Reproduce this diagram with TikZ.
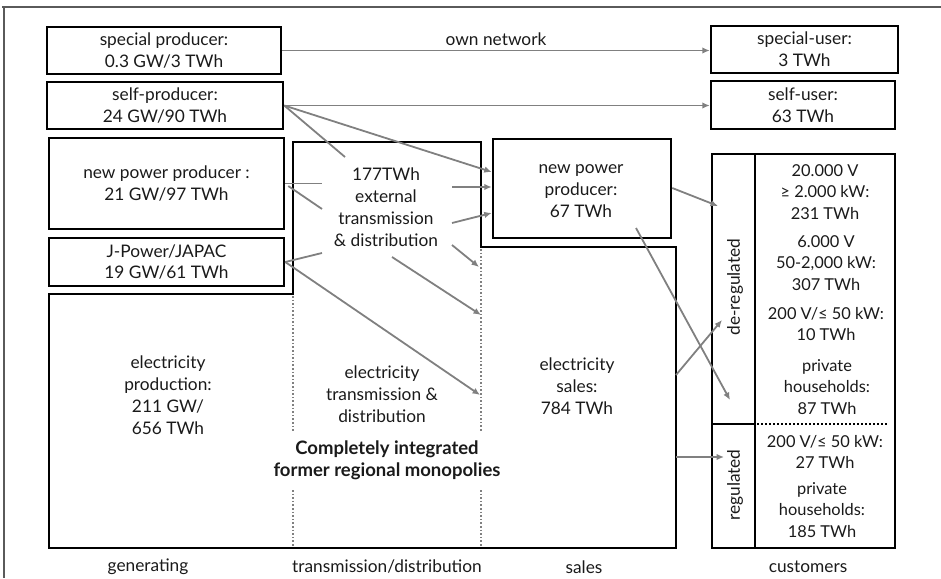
\documentclass[tikz,border=0pt]{standalone}
\usepackage{fontspec}
\setmainfont{Lato}
\usetikzlibrary{arrows.meta,calc}
\definecolor{flowgray}{HTML}{808080}
\definecolor{framegray}{HTML}{5A5A5A}
\definecolor{ink}{HTML}{1A1A1A}
\begin{document}
\begin{tikzpicture}[x=1pt,y=-1pt,
  every node/.style={font=\fontsize{17.3}{21.8}\selectfont, text=ink, inner sep=0pt, align=center},
  custtext/.style={font=\fontsize{16.4}{21.7}\selectfont},
  box/.style={draw=black, line width=2.5pt, rectangle},
  flow/.style={draw=flowgray, line width=1.8pt, -{Latex[length=7.5pt,width=6.5pt]}},
  link/.style={draw=flowgray, line width=1.8pt},
  divider/.style={draw=flowgray, line width=1.6pt, dash pattern=on 1.6pt off 2pt},
  hdots/.style={draw=black, line width=2pt, dash pattern=on 1.8pt off 2.2pt}]
\useasboundingbox (0,0) rectangle (941,578);

% page frame
\draw[framegray, line width=1.3pt] (2,7) -- (941,7);
\draw[framegray, line width=1.3pt] (4,7) -- (4,578);

% integrated monopolies outline
\draw[black, line width=2.6pt] (49,294) -- (293,294) -- (293,142) -- (481,142)
  -- (481,247) -- (676,247) -- (676,548) -- (49,548) -- cycle;
\draw[divider] (293,296) -- (293,432);
\draw[divider] (293,490) -- (293,546);
\draw[divider] (481,249) -- (481,432);
\draw[divider] (481,490) -- (481,546);

% producers
\node[box, minimum width=234pt, minimum height=47pt] (sp) at (164,50.5)
  {special producer:\\0.3 GW/3 TWh};
\node[box, minimum width=236pt, minimum height=47pt] (selfp) at (165,105.5)
  {self-producer:\\24 GW/90 TWh};
\node[box, minimum width=235pt, minimum height=91pt] (npp) at (166.5,183.5)
  {new power producer :\\21 GW/97 TWh};
\node[box, minimum width=235pt, minimum height=48pt] (jp) at (166.5,262)
  {J-Power/JAPAC\\19 GW/61 TWh};

% users
\node[box, minimum width=187pt, minimum height=47pt] (su) at (804.5,49.5)
  {special-user:\\3 TWh};
\node[box, minimum width=184pt, minimum height=48pt] (selfu) at (803,105)
  {self-user:\\63 TWh};

% new power producer (sales side)
\node[box, minimum width=178pt, minimum height=99pt] (npm) at (582,188.5) {};
\node (npmtext) at (581,191) {new power\\producer:\\67 TWh};

% texts inside the monopolies block
\node (ext) at (386,207) {177TWh\\external\\transmission\\\& distribution};
\node (prod) at (168,395) {electricity\\production:\\211 GW/\\656 TWh};
\node (trans) at (382,394) {electricity\\transmission \&\\distribution};
\node[font=\fontsize{18.5}{21.8}\selectfont\bfseries] (mono) at (387,460)
  {Completely integrated\\former regional monopolies};
\node (sales) at (577,386) {electricity\\sales:\\784 TWh};

% customers
\node[box, minimum width=43pt, minimum height=270pt] (dereg) at (733.5,289) {};
\node[box, minimum width=43pt, minimum height=124pt] (reg) at (733.5,486) {};
\draw[black, line width=2.5pt] (712,154) rectangle (895,548);
\draw[hdots] (757,424) -- (888,424);
\node[rotate=90] (deregtext) at (735,287) {de-regulated};
\node[rotate=90] (regtext) at (735,485) {regulated};
\node[custtext] (c1) at (825,192) {20.000 V\\≥ 2.000 kW:\\231 TWh};
\node[custtext] (c2) at (826,263) {6.000 V\\50-2,000 kW:\\307 TWh};
\node[custtext] (c3) at (826,324) {200 V/≤ 50 kW:\\10 TWh};
\node[custtext] (c4) at (827,387) {private\\households:\\87 TWh};
\node[custtext] (c5) at (825,452) {200 V/≤ 50 kW:\\27 TWh};
\node[custtext] (c6) at (822,510) {private\\households:\\185 TWh};

% column captions
\node (capgen) at (148,567) {generating};
\node (captd) at (387,567) {transmission/distribution};
\node (capsales) at (584,567) {sales};
\node (capcust) at (808,567) {customers};

% free ends of the flows
\coordinate (x1) at (345,157);
\coordinate (x2) at (322,183.5);
\coordinate (x3) at (322,209);
\coordinate (x4) at (322,253);
\coordinate (x5) at (452,245);
\coordinate (x6) at (392,257);
\coordinate (x7) at (452,187);
\coordinate (x8) at (452,223);
\coordinate (y1) at (480,395);
\coordinate (y2) at (479,267);
\coordinate (y3) at (481,315);
\coordinate (z1) at (718,206);
\coordinate (z2) at (636,228);
\coordinate (z3) at (730,400);
\coordinate (z4) at (722,320);
\coordinate (z5) at (724,457);
\coordinate (s1) at (676,375);
\coordinate (s2) at (676,457);

% flows
\draw[flow] (sp.east) -- node[above=4pt, inner sep=0pt] (own) {own network} (sp.east -| su.west);
\draw[flow] (selfp.east) -- (selfp.east -| selfu.west);
\draw[link] (selfp.east) -- (x1);
\draw[flow] (selfp.east) -- ([yshift=16.5pt]npm.west);
\draw[link] (npp.east) -- (x2);
\draw[link] ([xshift=3pt,yshift=-2.5pt]npp.east) -- (x3);
\draw[link] (x4) -- (jp.east);
\draw[flow] (jp.east) -- (y1);
\draw[flow] (x5) -- (y2);
\draw[flow] (x6) -- (y3);
\draw[flow] (x7) -- ([yshift=1.5pt]npm.west);
\draw[flow] (x8) -- ([yshift=-24.5pt]npm.west);
\draw[flow] ([yshift=0.5pt]npm.east) -- (z1);
\draw[flow] (z2) -- (z3);
\draw[flow] (s1) -- (z4);
\draw[flow] (s2) -- (z5);
\end{tikzpicture}
\end{document}
